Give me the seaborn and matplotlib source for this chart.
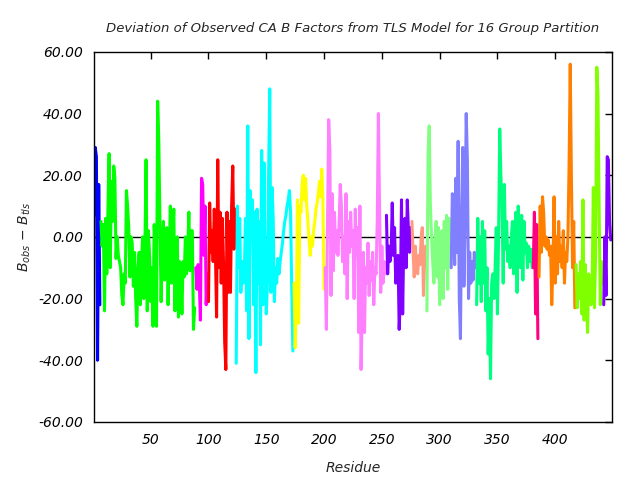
import matplotlib
matplotlib.use('Agg')
import matplotlib.pyplot as plt
import seaborn as sns
import pandas as pd
import numpy as np

# deviation (B_obs - B_tls) per residue, one list per TLS group
g01 = [7, 29, 26, -40, 17, -22]
g02 = [5, -3, 4, -24, 6, -12, 9, 27, -10, 18, 5, 23, 19, -7, 0, -6, -8, -10,
       -19, -22, -12, -15, 15, 10, 3, -13, 0, -2, -16, -5, -20, -29, -10,
       -5, -22, -8, 0, -20, -3, 25, -24, 2, -6, -21, -10, -29, 4, -5,
       -29, 44, 31, 5, -21, -4, 5, -14, 2, 3, -22, -5, 10, -15, 0,
       9, -24, -3, 0, -26, -8, -10, -25, -8, -13, 0, -12, -5,
       8, -11, 2, 2, -30, -23]
g03 = [-10, -17, -9, -14, -27, 19, 17, -6, 10, -22, -12]
g04 = [-21, 11, -5, 2, -8, 9, -5, -26, 25, -10, 8, -15, 6, -8, -34, -43,
       8, -18, 5, -18, 10, 23, -4, 9]
g05 = [-41, 10, -10, 6, -18, -8, -15, -12, 6, -24, 36, -33, 15, 4, 12, -22,
       8, -44, 9, -15, 5, -35, 28, -22, 24, -13, -25, -15, 20, 48, -18, 16,
       6, -21, -10, -15, -7, -12, -8, -5, -2, 2, 5, 7, 10, 12, 15, 8, -16, -37]
g06 = [-15, -36, -22, 12, -28, 10, 8, 17, 20, 12, 19, 10, 5, -1, -6, 0, -3,
       2, 5, 9, 11, 14, 18, 13, 22, 12, -17]
g07 = [-10, -30, 5, 38, 28, -19, 14, -11, 8, -5, 2, -6, 4, 17, 10, -8, 0,
       -12, 14, -20, 5, -5, 8, -3, 2,
       -20, 9, -6, 3, -31, 10, -43, -25, -5, -31, -10, -15, -2, -19, -8,
       -14, -5, -22, -10, -12, 5, 40, 10, -18, -3, -15, -8, -12]
g08 = [7, -12, -3, -8, -5, 11, -6, 3, -15, -8, -6, -30, -20, 12, -25, 0, 6,
       -10, 12, 2, -5, 3]
g09 = [5, -5, -13, -3, -10, -12, -6, -9, 0, 3, -19, -8, -3]
g10 = [-24, 27, 36, 10, 0, -8, -15, 0, 5, -13, 3, -22, -5, 2, -20, 5, -10,
       7, -17, 6, 0]
g11 = [-10, 14, 5, -9, 19, -5, 31, -20, -33, 8, 29, -16, 5, 40, 25, -20,
       -5, -15, -8, -14, -5, -10]
g12 = [-22, 6, -15, 0, -21, 5, -15, 2, -24, -10, -38, -20, -46, -15, -12,
       -20, -10, 3, -25, 0, 35, 20, 10, -15, 17, -4, 5, -8, -3, -10, 0, 5,
       -12, 2, 8, -18, 10, 0, -10, 7, -14, 5, -5, -2, -10, -3, -8, -4, -10]
g13 = [-10, 8, -25, 4, -33]
g14 = [-13, 10, -5, 13, 8, -3, 0, -4, -1, -6, -3, -22, -10, 13, -15, 0, -12,
       5, -8, -3, -10, 2, -15, -5, -8, 0, 23, 56, 20, -10, 5, -23]
g15 = [-9, -23, -12, -20, -8, -25, 12, -27, -9, -20, -31, -12, -18, -22,
       -15, 16, -23, -5, 55, 46, 10, -22, -8, -15]
g16 = [-22, 0, -19, 26, 25, 5, -1]

groups = [g01, g02, g03, g04, g05, g06, g07, g08, g09, g10, g11, g12, g13, g14, g15, g16]
colors = ['#0000ff', '#00ff00', '#ff00ff', '#ff0000', '#00ffff', '#ffff00',
          '#ff80ff', '#8000ff', '#ff9980', '#80ff80', '#8080ff', '#00ff80',
          '#ff0080', '#ff8000', '#80ff00', '#8000ff']

dev = np.concatenate(groups)
grp = np.concatenate([[i] * len(g) for i, g in enumerate(groups)])
df = pd.DataFrame({'Residue': np.arange(1, len(dev) + 1), 'dev': dev, 'group': grp})

sns.set_style('white')
plt.rcParams['font.family'] = ['DejaVu Sans']

fig = plt.figure(figsize=(6.4, 4.8), dpi=100)
ax = fig.add_axes([0.147, 0.121, 0.809, 0.771])

ax.axhline(0, color='black', lw=1.0, zorder=1)
sns.lineplot(data=df, x='Residue', y='dev', hue='group', palette=colors,
             estimator=None, legend=False, lw=2.2, ax=ax, zorder=2)

ax.set_xlim(1, 449)
ax.set_ylim(-60, 60)
ax.set_xticks(range(50, 401, 50))
ax.set_yticks(range(-60, 61, 20))
ax.set_yticklabels([f'{v:.2f}' for v in range(-60, 61, 20)])
ax.tick_params(direction='in', length=5, width=1, top=True, right=True,
               labelsize=10, pad=8, colors='black')
for lab in ax.get_xticklabels() + ax.get_yticklabels():
    lab.set_fontstyle('italic')
for sp in ax.spines.values():
    sp.set_color('black')
    sp.set_linewidth(1)

ax.set_xlabel('Residue', fontsize=10, fontstyle='italic', labelpad=10)
ax.set_ylabel(r'$B_{obs}$ $-$ $B_{tls}$', fontsize=10, labelpad=4)
ax.set_title('Deviation of Observed CA B Factors from TLS Model for 16 Group Partition',
             fontsize=9.5, fontstyle='italic', pad=14)

fig.savefig('out.png', dpi=100)
